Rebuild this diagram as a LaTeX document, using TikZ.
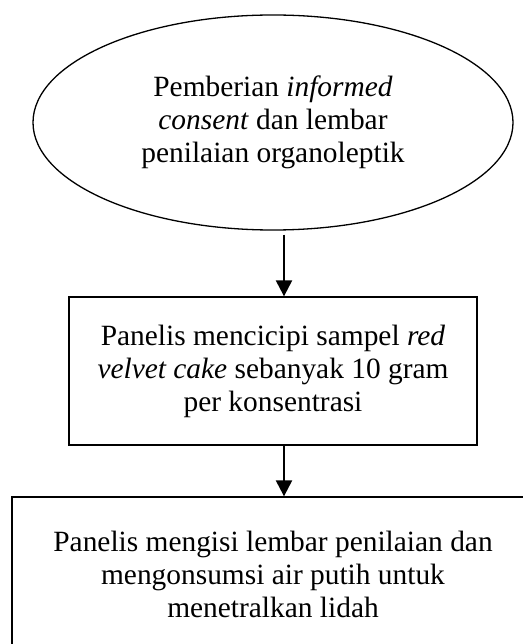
\documentclass[tikz,border=0pt]{standalone}
\usepackage{fontspec}
\setmainfont{Liberation Serif}
\usetikzlibrary{shapes.geometric,arrows.meta}
\begin{document}
\begin{tikzpicture}[x=1pt,y=1pt,
  txt/.style={align=center,font=\fontsize{29.4pt}{33pt}\selectfont,text=black},
  ellbox/.style={txt,draw,ellipse,line width=1.3pt,minimum width=480pt,minimum height=215pt,inner sep=0pt},
  recbox/.style={txt,draw,rectangle,line width=1.3pt,inner sep=0pt},
  arr/.style={line width=2.2pt,-{Triangle[length=16pt,width=16pt]}}]
\useasboundingbox (0,0) rectangle (522,-644);
\node[ellbox] (ell) at (273,-122.5) {Pemberian \textit{informed}\\\textit{consent} dan lembar\\penilaian organoleptik};
\node[recbox,minimum width=408pt,minimum height=148pt] (b2) at (273,-371) {Panelis mencicipi sampel \textit{red}\\\textit{velvet cake} sebanyak 10 gram\\per konsentrasi};
\node[recbox,minimum width=522pt,minimum height=154pt] (b3) at (273,-574) {Panelis mengisi lembar penilaian dan\\mengonsumsi air putih untuk\\menetralkan lidah};
\coordinate (ax) at (284,0);
\draw[arr,shorten <=4pt] (ell.south -| ax) -- (b2.north -| ax);
\draw[arr] (b2.south -| ax) -- (b3.north -| ax);
\end{tikzpicture}
\end{document}
